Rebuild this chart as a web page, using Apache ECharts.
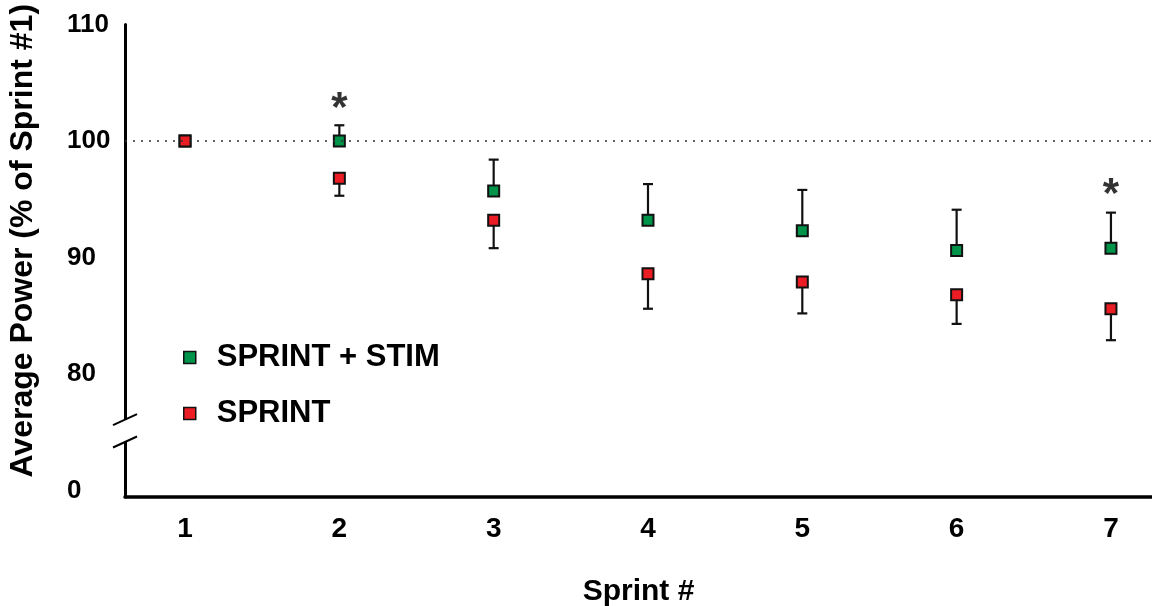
<!DOCTYPE html>
<html>
<head>
<meta charset="utf-8">
<script src="https://cdn.jsdelivr.net/npm/echarts@6/dist/echarts.min.js"></script>
<style>
html,body{margin:0;padding:0;background:#fff;overflow:hidden;}
#c{width:1152px;height:606px;}
</style>
</head>
<body>
<div id="c"></div>
<script>
// ---- data ----
const sprints = [1, 2, 3, 4, 5, 6, 7];
const stimMean = [100, 100, 95.7, 93.2, 92.3, 90.6, 90.8];
const stimErrUp = [0, 1.35, 2.7, 3.1, 3.5, 3.5, 3.05];
const sprintMean = [100, 96.8, 93.2, 88.6, 87.9, 86.8, 85.6];
const sprintErrDown = [0, 1.5, 2.4, 3.0, 2.7, 2.5, 2.7];
const sigSprints = [2, 7];
const sigY = [103.5, 96.1];
const yTicks = [70, 80, 90, 100, 110];
const yTickLabels = ['0', '80', '90', '100', '110'];
const axisBreak = [74.16, 76.08];
const refLine = 100;

const FONT = 'Liberation Sans, Arial, sans-serif';
const GREEN = '#00934A';
const RED = '#EC1C24';
const X_MIN = 0.611, X_MAX = 7.266, Y_MIN = 69.44, Y_MAX = 110;

function errRender(dir) {
  return function (params, api) {
    const x = api.value(0), y = api.value(1), e = api.value(2);
    if (!e) return null;
    const p0 = api.coord([x, y]);
    const p1 = api.coord([x, y + dir * e]);
    const half = 5;
    return {
      type: 'group',
      children: [
        { type: 'line', shape: { x1: p0[0], y1: p0[1], x2: p1[0], y2: p1[1] }, style: { stroke: '#111', lineWidth: 2.2 } },
        { type: 'line', shape: { x1: p1[0] - half, y1: p1[1], x2: p1[0] + half, y2: p1[1] }, style: { stroke: '#111', lineWidth: 2.2 } }
      ]
    };
  };
}

const chart = echarts.init(document.getElementById('c'));
chart.setOption({
  animation: false,
  backgroundColor: '#fff',
  grid: { left: 125, right: 0, top: 24.5, bottom: 109, containLabel: false, outerBoundsMode: 'none' },
  xAxis: {
    type: 'value', min: X_MIN, max: X_MAX,
    axisLine: { show: true, lineStyle: { color: '#000', width: 3.5 } },
    axisTick: { show: false }, splitLine: { show: false },
    axisLabel: { customValues: sprints, fontSize: 28, fontWeight: 'bold', color: '#000', fontFamily: FONT, margin: 18 },
    name: 'Sprint #', nameLocation: 'middle', nameGap: 80,
    nameTextStyle: { fontSize: 30, fontWeight: 'bold', color: '#000', fontFamily: FONT }
  },
  yAxis: {
    type: 'value', min: Y_MIN, max: Y_MAX,
    axisLine: { show: true, lineStyle: { color: '#000', width: 3 } },
    axisTick: { show: false }, splitLine: { show: false },
    axisLabel: {
      customValues: yTicks, align: 'left', margin: 58,
      formatter: v => yTickLabels[yTicks.indexOf(v)],
      fontSize: 26, fontWeight: 'bold', color: '#000', fontFamily: FONT, padding: [9, 0, 0, 0]
    },
    name: 'Average Power (% of Sprint #1)', nameLocation: 'middle', nameGap: 86, nameRotate: 90,
    nameTextStyle: { fontSize: 32, fontWeight: 'bold', color: '#000', fontFamily: FONT, padding: [0, 0, 0, 40] }
  },
  legend: {
    orient: 'vertical', left: 178, top: 337,
    itemWidth: 12, itemHeight: 12, itemGap: 25,
    data: ['SPRINT + STIM', 'SPRINT'],
    textStyle: { fontSize: 31, fontWeight: 'bold', color: '#000', fontFamily: FONT, lineHeight: 31, padding: [0, 0, 0, 16] },
    itemStyle: { borderColor: '#111', borderWidth: 1.5 }
  },
  series: [
    {
      type: 'line', data: [], silent: true,
      markLine: {
        silent: true, symbol: ['none', 'none'], label: { show: false },
        lineStyle: { type: [2, 6], color: '#333', width: 1.5 },
        data: [{ yAxis: refLine }]
      }
    },
    {
      type: 'custom', renderItem: errRender(1), z: 2, silent: true,
      data: sprints.map((s, i) => [s, stimMean[i], stimErrUp[i]])
    },
    {
      type: 'custom', renderItem: errRender(-1), z: 2, silent: true,
      data: sprints.map((s, i) => [s, sprintMean[i], sprintErrDown[i]])
    },
    {
      name: 'SPRINT + STIM', type: 'scatter', symbol: 'rect', symbolSize: 11, z: 3,
      itemStyle: { color: GREEN, borderColor: '#111', borderWidth: 2, opacity: 1 },
      data: sprints.map((s, i) => [s, stimMean[i]])
    },
    {
      name: 'SPRINT', type: 'scatter', symbol: 'rect', symbolSize: 11, z: 4,
      itemStyle: { color: RED, borderColor: '#111', borderWidth: 2, opacity: 1 },
      data: sprints.map((s, i) => [s, sprintMean[i]])
    },
    {
      type: 'scatter', symbolSize: 0, z: 5, silent: true,
      label: { show: true, position: 'inside', formatter: '*', fontSize: 42, fontWeight: 'bold', color: '#000', fontFamily: FONT, offset: [0, 9] },
      data: sigSprints.map((s, i) => [s, sigY[i]])
    }
  ]
});

// axis break on the y axis
const pTop = chart.convertToPixel({ gridIndex: 0 }, [X_MIN, axisBreak[1]]);
const pBot = chart.convertToPixel({ gridIndex: 0 }, [X_MIN, axisBreak[0]]);
const ax = pTop[0];
chart.setOption({
  graphic: [
    { type: 'rect', shape: { x: ax - 4, y: pTop[1], width: 8, height: pBot[1] - pTop[1] }, style: { fill: '#fff' }, z: 100 },
    { type: 'line', shape: { x1: ax - 12, y1: pTop[1] + 5.5, x2: ax + 12, y2: pTop[1] - 5.5 }, style: { stroke: '#000', lineWidth: 2 }, z: 101 },
    { type: 'line', shape: { x1: ax - 12, y1: pBot[1] + 5.5, x2: ax + 12, y2: pBot[1] - 5.5 }, style: { stroke: '#000', lineWidth: 2 }, z: 101 }
  ]
});
</script>
</body>
</html>
